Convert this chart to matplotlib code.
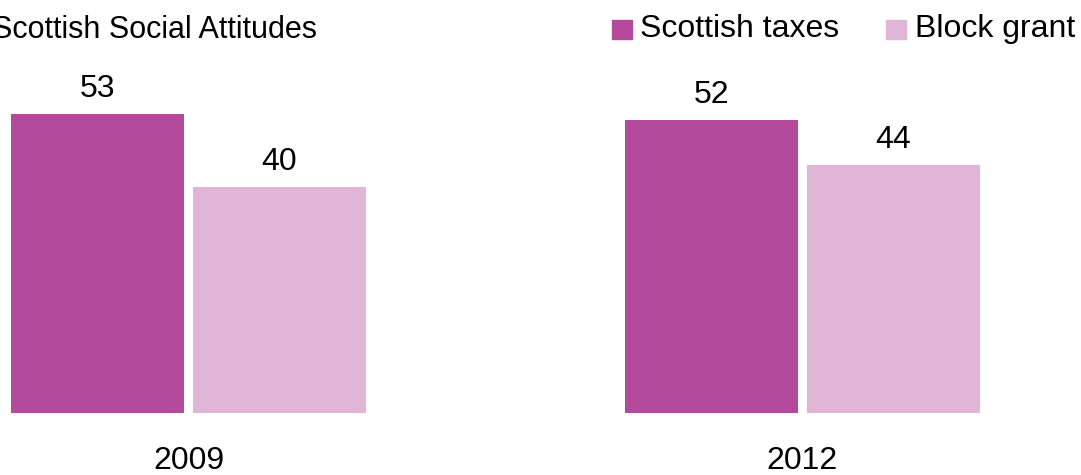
import matplotlib
matplotlib.use("Agg")
import matplotlib.pyplot as plt
from matplotlib.patches import Rectangle

years = ["2009", "2012"]
scottish_taxes = [53, 52]
block_grant = [40, 44]
series_names = ["Scottish taxes", "Block grant"]
title = "Scottish Social Attitudes"

dark = "#B44A9B"
light = "#E1B5D6"

plt.rcParams["font.family"] = ["Liberation Sans", "DejaVu Sans"]

W, H = 1081, 475
fig = plt.figure(figsize=(W / 100, H / 100), dpi=100)
ax = fig.add_axes([0, 0, 1, 1])

# one group unit = 614 px, bars 173 px wide with 9 px gap
unit = 614.0
bw = 173 / unit
off = 91 / unit
x0_px = 188.5
ax.set_xlim(-x0_px / unit, (W - x0_px) / unit)
ppu = 5.64  # pixels per percentage point
base_px = 62
ax.set_ylim(-base_px / ppu, (H - base_px) / ppu)
ax.axis("off")

xs = range(len(years))
ax.bar([x - off for x in xs], scottish_taxes, width=bw, color=dark)
ax.bar([x + off for x in xs], block_grant, width=bw, color=light)

fs = 23
for x, v in zip(xs, scottish_taxes):
    ax.text(x - off, v + 3.0, str(v), ha="center", va="baseline", fontsize=fs)
for x, v in zip(xs, block_grant):
    ax.text(x + off, v + 3.0, str(v), ha="center", va="baseline", fontsize=fs)
for x, y in zip(xs, years):
    ax.text(x, -10.0, y, ha="center", va="baseline", fontsize=fs)

# title is clipped at the left edge in the original
fig.text(-8 / W, 1 - 38 / H, title, ha="left", va="baseline", fontsize=22)

# legend drawn by hand at top right
for sx, tx, col, name in [(612, 640, dark, series_names[0]),
                          (886, 915, light, series_names[1])]:
    fig.patches.append(Rectangle((sx / W, 1 - 39 / H), 20 / W, 19 / H,
                                 transform=fig.transFigure, color=col))
    fig.text(tx / W, 1 - 37 / H, name, ha="left", va="baseline", fontsize=fs)

fig.savefig("out.png", dpi=100)
